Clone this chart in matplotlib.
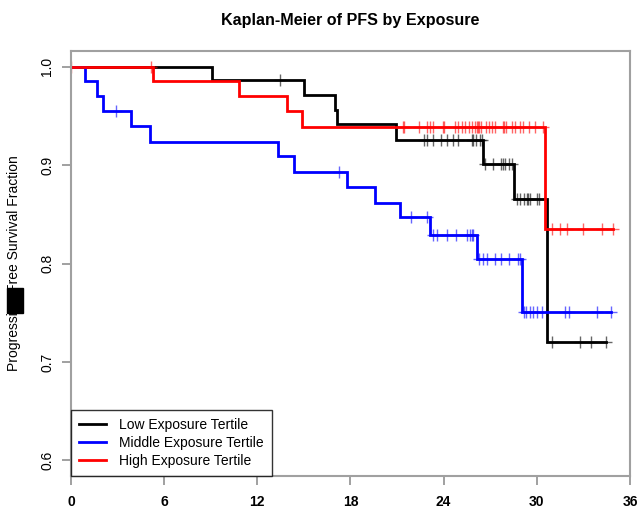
#!/usr/bin/env python3
"""Kaplan-Meier curves of PFS by exposure tertile."""

import matplotlib

matplotlib.use("Agg")
import matplotlib.pyplot as plt
import numpy as np
from matplotlib.patches import Rectangle

plt.rcParams["font.family"] = ["Liberation Sans", "DejaVu Sans"]

# Low exposure tertile
low_event_t = [9.06, 15.0, 17.0, 17.15, 20.9, 26.5, 28.5, 30.67]
low_surv = [0.987, 0.971, 0.956, 0.942, 0.926, 0.901, 0.866, 0.720]
low_censor_t = [13.46, 22.75, 22.9, 23.3, 23.8, 24.2, 24.6, 24.9, 25.8, 25.9,
                26.1, 26.34, 26.45, 26.66, 27.2, 27.7, 27.8, 27.95, 28.2, 28.4,
                28.7, 28.9, 29.2, 29.35, 29.45, 29.56, 30.0, 30.15, 30.95,
                32.8, 33.5, 34.45]
low_end = 34.45

# Middle exposure tertile
mid_event_t = [0.9, 1.65, 2.04, 3.84, 5.09, 13.35, 14.38, 17.8, 19.57, 21.18,
               23.1, 26.16, 29.06]
mid_surv = [0.985, 0.970, 0.955, 0.940, 0.924, 0.909, 0.893, 0.878, 0.862,
            0.847, 0.829, 0.805, 0.751]
mid_censor_t = [2.88, 17.27, 21.9, 22.9, 23.3, 23.55, 24.2, 24.8, 25.5, 25.7,
                 25.8, 25.9, 26.3, 26.5, 26.8, 27.3, 27.7, 28.2, 28.8, 28.9,
                 29.17, 29.3, 29.56, 29.77, 29.99, 30.3, 31.8, 32.1, 33.9, 34.8]
mid_end = 34.8

# High exposure tertile
high_event_t = [5.3, 10.84, 13.89, 14.86, 30.5]
high_surv = [0.986, 0.970, 0.955, 0.939, 0.835]
high_censor_t = [0.0, 5.13, 21.4, 21.45, 22.4, 22.9, 23.1, 23.3, 23.97, 24.0,
                 24.7, 24.9, 25.2, 25.4, 25.6, 25.8, 26.0, 26.12, 26.2, 26.3,
                 26.4, 26.7, 26.9, 27.1, 27.3, 27.8, 27.9, 28.0, 28.4, 28.6,
                 28.9, 29.1, 29.5, 29.9, 30.4, 31.0, 31.5, 31.96, 33.0, 34.2,
                 34.9]
high_end = 34.9

labels = ["Low Exposure Tertile", "Middle Exposure Tertile",
          "High Exposure Tertile"]
colors = ["black", "#0000ff", "#ff0000"]

x_ticks = [0, 6, 12, 18, 24, 30, 36]
y_ticks = [0.6, 0.7, 0.8, 0.9, 1.0]


def surv_at(event_t, surv, t):
    idx = np.searchsorted(event_t, t, side="right")
    levels = np.concatenate([[1.0], surv])
    return levels[idx]


fig = plt.figure(figsize=(6.39, 5.12), dpi=100)
ax = fig.add_axes([0.111, 0.0703, 0.875, 0.8301])

groups = [
    (low_event_t, low_surv, low_censor_t, low_end),
    (mid_event_t, mid_surv, mid_censor_t, mid_end),
    (high_event_t, high_surv, high_censor_t, high_end),
]

for (ev, sv, cens, end), color, label in zip(groups, colors, labels):
    xs = [0.0] + list(ev) + [end]
    ys = [1.0] + list(sv) + [sv[-1]]
    ax.step(xs, ys, where="post", color=color, lw=2.0, label=label,
            solid_joinstyle="miter")
    ct = np.array(cens)
    ax.plot(ct, surv_at(np.array(ev), np.array(sv), ct), ls="none",
            marker="+", ms=8, mew=1.0, color=color, alpha=0.6)

ax.set_xlim(0, 36)
ax.set_ylim(0.584, 1.016)
ax.set_xticks(x_ticks)
ax.set_xticklabels([str(v) for v in x_ticks], fontweight="bold")
ax.set_yticks(y_ticks)
ax.set_yticklabels([f"{v:.1f}" for v in y_ticks], rotation=90, va="center")

for side in ax.spines.values():
    side.set_color("#a0a0a0")
    side.set_linewidth(1.5)
ax.tick_params(axis="both", length=6.5, width=1.2, color="#909090",
               labelsize=10)
ax.tick_params(axis="x", pad=7)
ax.tick_params(axis="y", pad=5.5)

ax.set_title("Kaplan-Meier of PFS by Exposure", fontsize=11.6,
             fontweight="bold", pad=19)
ax.set_ylabel("Progression-Free Survival Fraction", fontsize=10)
ax.yaxis.set_label_coords(-0.089, 0.5)

leg = ax.legend(loc="lower left", frameon=True, fancybox=False,
                borderaxespad=0, fontsize=10, handlelength=1.9,
                handletextpad=0.95, labelspacing=0.28, borderpad=0.6)
leg.get_frame().set_edgecolor("black")
leg.get_frame().set_linewidth(1.0)

# smudge covering part of the y label in the source image
fig.patches.append(Rectangle((7 / 639, 1 - 313 / 512), 16 / 639, 25 / 512,
                             transform=fig.transFigure, color="black"))

fig.savefig("out.png", dpi=100)
plt.close(fig)
